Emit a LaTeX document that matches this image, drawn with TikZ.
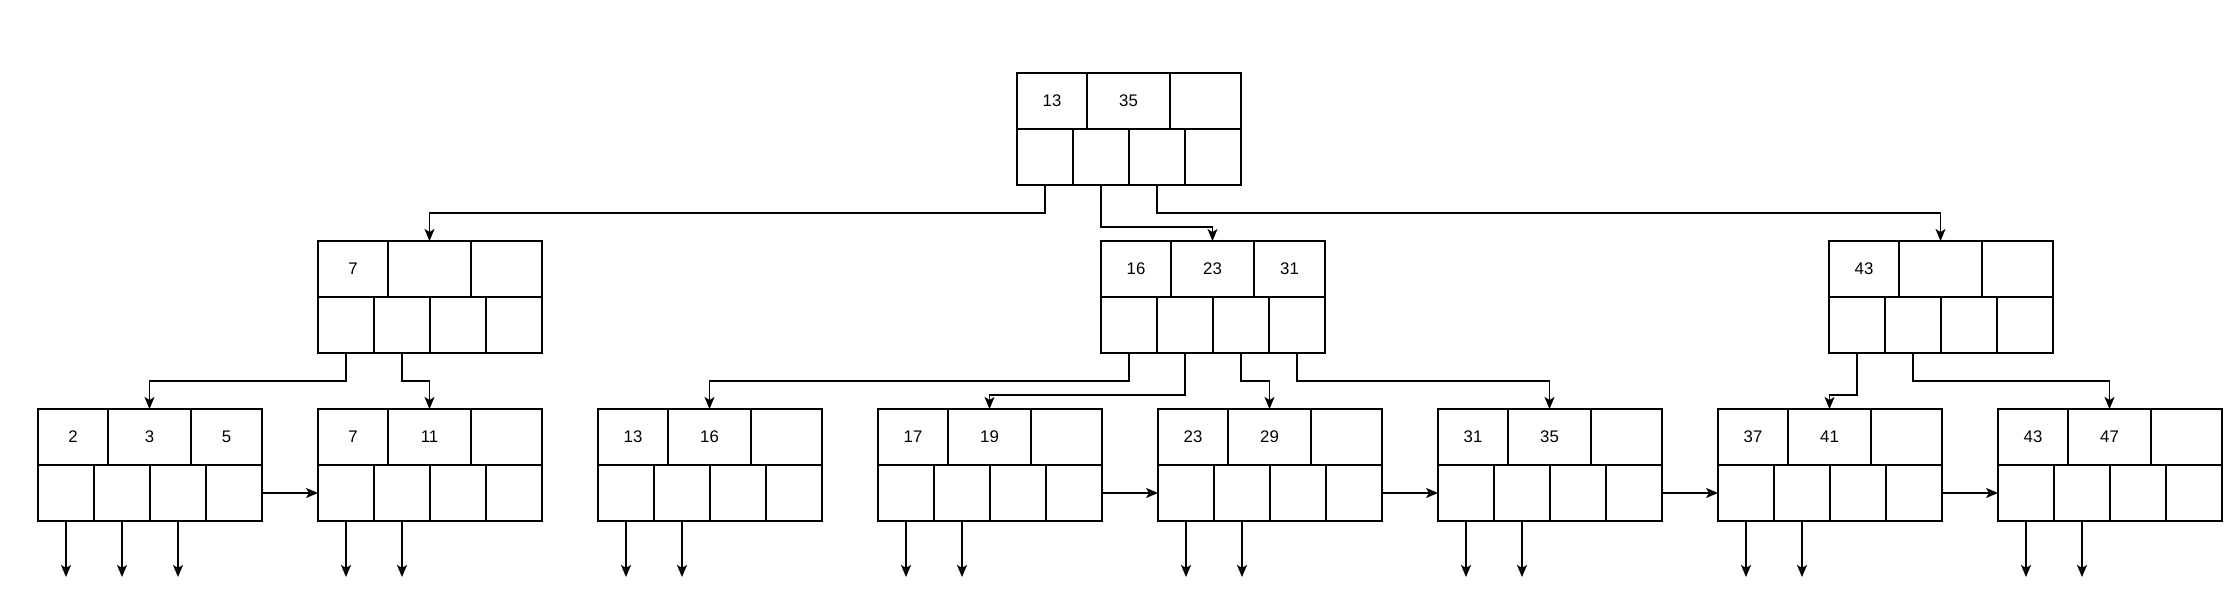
\documentclass[tikz,border=0pt]{standalone}
\usepackage{fontspec}
\setmainfont{Liberation Sans}
\usetikzlibrary{arrows.meta}

% one tree node: name, top-left corner, three keys
\newcommand{\bpnode}[5]{%
  \node[key, minimum width=70pt, anchor=north west] (#1-k1) at (#2) {#3};
  \node[key, minimum width=83pt, anchor=west] (#1-k2) at (#1-k1.east) {#4};
  \node[key, minimum width=71pt, anchor=west] (#1-k3) at (#1-k2.east) {#5};
  \node[ptr, anchor=north west] (#1-p1) at (#1-k1.south west) {};
  \node[ptr, anchor=west] (#1-p2) at (#1-p1.east) {};
  \node[ptr, anchor=west] (#1-p3) at (#1-p2.east) {};
  \node[ptr, anchor=west] (#1-p4) at (#1-p3.east) {};
}

\begin{document}
\begin{tikzpicture}[x=1pt, y=-1pt, line width=1.4pt,
    >={Stealth[length=12pt, width=10pt, inset=3pt]},
    key/.style={draw, minimum height=56pt, inner sep=0pt, outer sep=0pt,
      font=\fontsize{16.8}{20}\selectfont},
    ptr/.style={draw, minimum width=56pt, minimum height=56pt, inner sep=0pt, outer sep=0pt}]
    \useasboundingbox (0,0) rectangle (2240,605);

    % Inner nodes
    \bpnode{root}{1017,73}{13}{35}{}
    \bpnode{lft}{318,241}{7}{}{}
    \bpnode{mid}{1101,241}{16}{23}{31}
    \bpnode{rgt}{1829,241}{43}{}{}

    % Leaves
    \foreach \a/\b/\c [count=\i, evaluate=\i as \lx using 38+280*(\i-1)] in
        {2/3/5, 7/11/{}, 13/16/{}, 17/19/{}, 23/29/{}, 31/35/{}, 37/41/{}, 43/47/{}}
        {\bpnode{leaf\i}{\lx,409}{\a}{\b}{\c}}

    % Child pointers
    \draw[->] (root-p1.south) -- ++(0,28) -| (lft-k2.north);
    \draw[->] (root-p2.south) -- ++(0,42) -| (mid-k2.north);
    \draw[->] (root-p3.south) -- ++(0,28) -| (rgt-k2.north);
    \draw[->] (lft-p1.south) -- ++(0,28) -| (leaf1-k2.north);
    \draw[->] (lft-p2.south) -- ++(0,28) -| (leaf2-k2.north);
    \draw[->] (mid-p1.south) -- ++(0,28) -| (leaf3-k2.north);
    \draw[->] (mid-p2.south) -- ++(0,42) -| (leaf4-k2.north);
    \draw[->] (mid-p3.south) -- ++(0,28) -| (leaf5-k2.north);
    \draw[->] (mid-p4.south) -- ++(0,28) -| (leaf6-k2.north);
    \draw[->] (rgt-p1.south) -- ++(0,42) -| (leaf7-k2.north);
    \draw[->] (rgt-p2.south) -- ++(0,28) -| (leaf8-k2.north);

    % Leaf links
    \foreach \s/\t in {1/2, 4/5, 5/6, 6/7, 7/8}
        \draw[->] (leaf\s-p4.east) -- (leaf\t-p1.west);

    % Record pointers
    \coordinate (leaf1-e3) at ([yshift=-56pt]leaf1-p3.south);
    \draw[->] (leaf1-p3.south) -- (leaf1-e3);
    \foreach \i in {1,...,8}
        \foreach \k in {1,2} {
            \coordinate (leaf\i-e\k) at ([yshift=-56pt]leaf\i-p\k.south);
            \draw[->] (leaf\i-p\k.south) -- (leaf\i-e\k);
        }
\end{tikzpicture}
\end{document}
